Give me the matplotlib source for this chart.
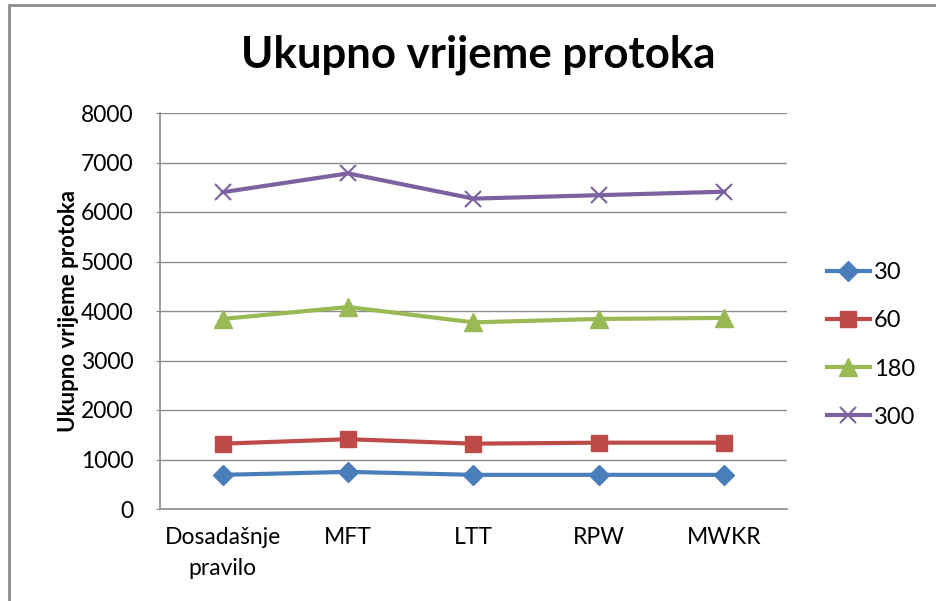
import matplotlib
matplotlib.use("Agg")
import matplotlib.pyplot as plt
from matplotlib.patches import Rectangle

plt.rcParams['font.family'] = ['Lato', 'DejaVu Sans']

categories = ["Dosadašnje\npravilo", "MFT", "LTT", "RPW", "MWKR"]
series_names = ["30", "60", "180", "300"]
s30 = [690, 750, 690, 690, 690]
s60 = [1320, 1410, 1320, 1340, 1340]
s180 = [3840, 4080, 3770, 3840, 3860]
s300 = [6400, 6780, 6270, 6340, 6410]
yticks = [0, 1000, 2000, 3000, 4000, 5000, 6000, 7000, 8000]

colors = ["#4A7EBB", "#BE4B48", "#98B954", "#7D60A0"]
markers = ["D", "s", "^", "x"]
msizes = [10, 11.5, 12.5, 11.5]

fig = plt.figure(figsize=(9.36, 6.01), dpi=100)
fig.patches.append(Rectangle((9/936, -0.1), 1.2, (601-4.5)/601 + 0.1, transform=fig.transFigure,
                             fill=False, edgecolor="#8c8c8c", linewidth=2))
ax = fig.add_axes([160/936, (601-509)/601, (787-160)/936, (509-113)/601])

x = list(range(len(categories)))
for vals, name, c, m, ms in zip([s30, s60, s180, s300], series_names, colors, markers, msizes):
    ax.plot(x, vals, color=c, linewidth=3, marker=m, markersize=ms,
            markeredgecolor=c, markerfacecolor=c, markeredgewidth=1.5 if m == "x" else 1,
            label=name, zorder=3)

ax.set_xlim(-0.5, len(categories) - 0.5)
ax.set_ylim(0, 8000)
ax.set_yticks(yticks)
ax.set_yticklabels([str(v) for v in yticks], fontsize=16.5)
ax.set_xticks(x)
ax.set_xticklabels(categories, fontsize=16.5, linespacing=1.6)
ax.tick_params(axis='x', length=0, pad=13)
ax.tick_params(axis='y', length=3, color="#8c8c8c", pad=16)
ax.grid(axis='y', color="#8c8c8c", linewidth=1)
ax.set_axisbelow(True)
for s in ["top", "right"]:
    ax.spines[s].set_visible(False)
for s in ["left", "bottom"]:
    ax.spines[s].set_color("#8c8c8c")
    ax.spines[s].set_linewidth(1.2)

ax.set_ylabel("Ukupno vrijeme protoka", fontsize=16, fontweight='bold', labelpad=1)
fig.text(478/936, 1 - 55/601, "Ukupno vrijeme protoka", fontsize=31.5, fontweight='bold',
         ha='center', va='center')

leg = ax.legend(loc='center left', bbox_to_anchor=(1.0, 0.5 - 34/396), frameon=False, fontsize=17,
                handlelength=1.8, labelspacing=1.15, handletextpad=0.17, borderaxespad=1.3)

fig.savefig("out.png", dpi=100)
